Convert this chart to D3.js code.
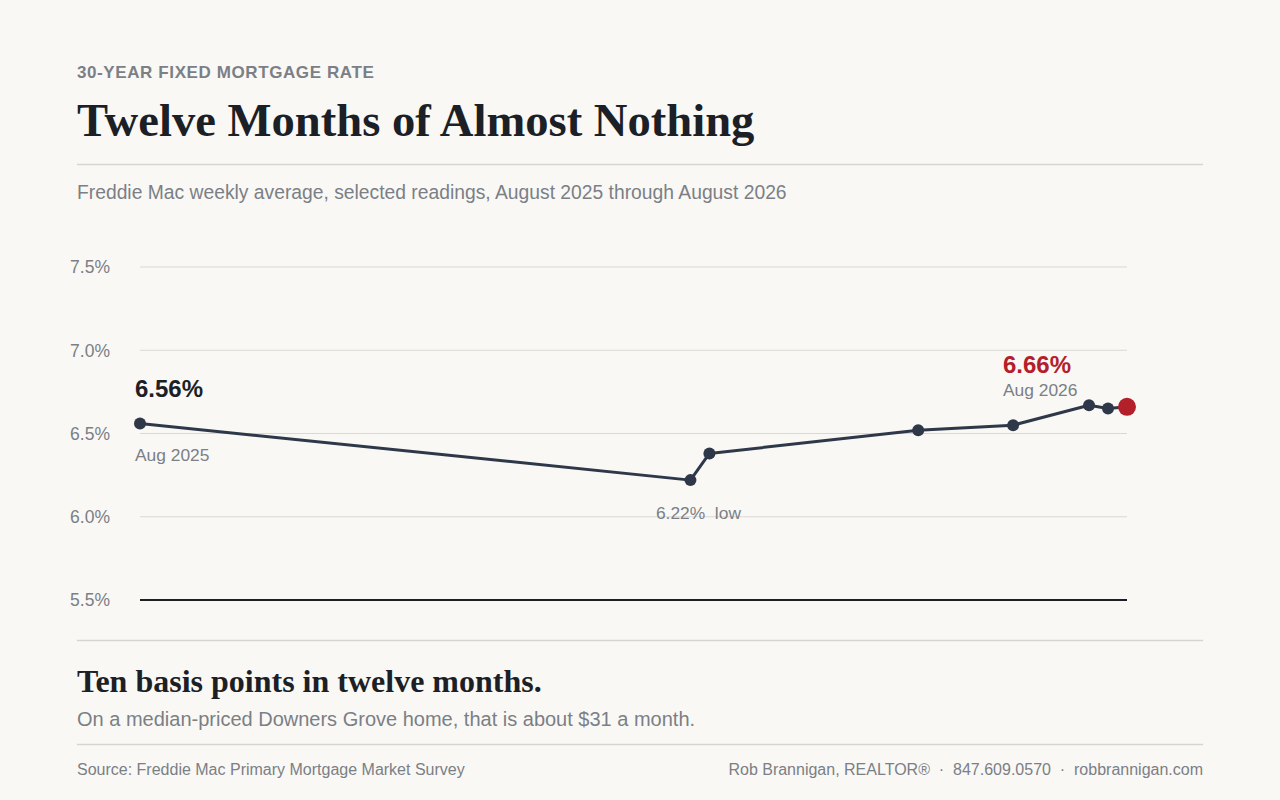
<!DOCTYPE html>
<html><head><meta charset="utf-8">
<script src="https://cdn.jsdelivr.net/npm/d3@7/dist/d3.min.js"></script>
<style>
html,body{margin:0;padding:0;background:#f9f8f5;}
svg{display:block;}
</style></head>
<body><svg id="c" width="1280" height="800"></svg>
<script>
const dates = ["2025-08-14","2026-03-05","2026-03-12","2026-05-28","2026-07-02","2026-07-30","2026-08-06","2026-08-13"];
const rates = [6.56, 6.22, 6.38, 6.52, 6.55, 6.67, 6.65, 6.66];
const yTicks = [5.5, 6.0, 6.5, 7.0, 7.5];

const parse = d3.timeParse("%Y-%m-%d");
const data = dates.map((d,i)=>({date:parse(d), rate:rates[i]}));

const svg = d3.select("#c");
svg.append("rect").attr("width",1280).attr("height",800).attr("fill","#f9f8f5");

const sans = "'Liberation Sans', Arial, sans-serif";
const serif = "'Liberation Serif', 'Times New Roman', serif";
const gray = "#7b7f86";
const ink = "#1c1f26";
const lineCol = "#2e3849";
const red = "#b3202a";

// header
svg.append("text").attr("x",77).attr("y",78).attr("font-family",sans).attr("font-weight","bold")
  .attr("font-size",17).attr("letter-spacing","0.6px").attr("fill",gray).text("30-YEAR FIXED MORTGAGE RATE");
svg.append("text").attr("x",77).attr("y",136).attr("font-family",serif).attr("font-weight","bold")
  .attr("font-size",46.6).attr("fill",ink).text("Twelve Months of Almost Nothing");
svg.append("line").attr("x1",77).attr("x2",1203).attr("y1",164.5).attr("y2",164.5).attr("stroke","#d6d5d2").attr("stroke-width",1.5);
svg.append("text").attr("x",77).attr("y",199).attr("font-family",sans)
  .attr("font-size",19.3).attr("fill",gray).text("Freddie Mac weekly average, selected readings, August 2025 through August 2026");

// scales
const x = d3.scaleTime().domain([data[0].date, data[data.length-1].date]).range([140,1127]);
const y = d3.scaleLinear().domain([5.5,7.5]).range([600,267]);

// grid
const g = svg.append("g");
g.selectAll("line.grid").data(yTicks.filter(t=>t>5.5)).join("line")
  .attr("x1",140).attr("x2",1127).attr("y1",d=>y(d)).attr("y2",d=>y(d))
  .attr("stroke","#d9d8d5").attr("stroke-width",1.2);
g.append("line").attr("x1",140).attr("x2",1127).attr("y1",y(5.5)).attr("y2",y(5.5))
  .attr("stroke",ink).attr("stroke-width",2);

const yAxis = d3.axisLeft(y).tickValues(yTicks).tickFormat(d=>d3.format(".1f")(d)+"%").tickSize(0).tickPadding(0);
const ya = svg.append("g").attr("transform","translate(110,0)").call(yAxis);
ya.select(".domain").remove();
ya.selectAll("text").attr("font-family",sans).attr("font-size",17.5).attr("fill",gray).attr("dy","0.33em");

// line
const line = d3.line().x(d=>x(d.date)).y(d=>y(d.rate));
svg.append("path").datum(data).attr("d",line).attr("fill","none").attr("stroke",lineCol)
  .attr("stroke-width",3).attr("stroke-linejoin","round");
svg.selectAll("circle.pt").data(data.slice(0,-1)).join("circle")
  .attr("cx",d=>x(d.date)).attr("cy",d=>y(d.rate)).attr("r",6).attr("fill",lineCol);
const last = data[data.length-1];
svg.append("circle").attr("cx",x(last.date)).attr("cy",y(last.rate)).attr("r",9).attr("fill",red);

// annotations
const first = data[0];
svg.append("text").attr("x",x(first.date)-5).attr("y",y(first.rate)-27).attr("font-family",sans).attr("font-weight","bold")
  .attr("font-size",24).attr("fill",ink).text(d3.format(".2f")(first.rate)+"%");
svg.append("text").attr("x",x(first.date)-5).attr("y",y(first.rate)+37).attr("font-family",sans)
  .attr("font-size",17.4).attr("fill",gray).text("Aug 2025");
const low = data[d3.minIndex(data,d=>d.rate)];
svg.append("text").attr("x",x(low.date)+8).attr("y",y(low.rate)+39).attr("text-anchor","middle").attr("font-family",sans)
  .attr("font-size",17.4).attr("fill",gray).attr("xml:space","preserve").style("white-space","pre")
  .text(d3.format(".2f")(low.rate)+"%  low");
svg.append("text").attr("x",1003).attr("y",y(last.rate)-34).attr("font-family",sans).attr("font-weight","bold")
  .attr("font-size",24).attr("fill",red).text(d3.format(".2f")(last.rate)+"%");
svg.append("text").attr("x",1003).attr("y",y(last.rate)-11).attr("font-family",sans)
  .attr("font-size",17.4).attr("fill",gray).text("Aug 2026");

// footer
svg.append("line").attr("x1",77).attr("x2",1203).attr("y1",640.5).attr("y2",640.5).attr("stroke","#d6d5d2").attr("stroke-width",1.5);
svg.append("text").attr("x",77).attr("y",692).attr("font-family",serif).attr("font-weight","bold")
  .attr("font-size",32).attr("fill",ink).text("Ten basis points in twelve months.");
svg.append("text").attr("x",77).attr("y",726).attr("font-family",sans)
  .attr("font-size",20).attr("fill",gray).text("On a median-priced Downers Grove home, that is about $31 a month.");
svg.append("line").attr("x1",77).attr("x2",1203).attr("y1",744.5).attr("y2",744.5).attr("stroke","#d6d5d2").attr("stroke-width",1.5);
svg.append("text").attr("x",77).attr("y",775).attr("font-family",sans)
  .attr("font-size",16).attr("fill",gray).text("Source: Freddie Mac Primary Mortgage Market Survey");
svg.append("text").attr("x",1203).attr("y",775).attr("text-anchor","end").attr("font-family",sans)
  .attr("font-size",16).attr("fill",gray).attr("xml:space","preserve").style("white-space","pre")
  .text("Rob Brannigan, REALTOR®  ·  847.609.0570  ·  robbrannigan.com");
</script></body></html>
